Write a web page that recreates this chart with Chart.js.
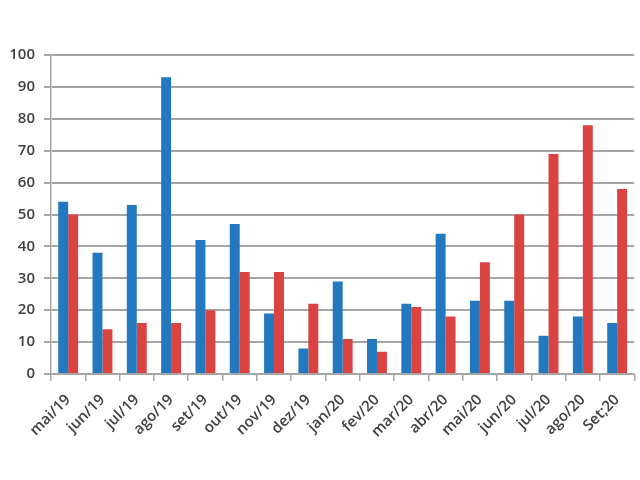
<!DOCTYPE html>
<html>
<head>
<meta charset="utf-8">
<script src="https://cdn.jsdelivr.net/npm/chart.js@4"></script>
<style>
  html, body { margin: 0; padding: 0; background: #fff; }
  #wrap { width: 640px; height: 480px; }
</style>
</head>
<body>
<div id="wrap"><canvas id="myChart" width="640" height="480"></canvas></div>
<script>
// Months (categories)
const months = ['mai/19', 'jun/19', 'jul/19', 'ago/19', 'set/19', 'out/19', 'nov/19', 'dez/19',
  'jan/20', 'fev/20', 'mar/20', 'abr/20', 'mai/20', 'jun/20', 'jul/20', 'ago/20', 'Set;20'];

// Series values
const blueValues = [54, 38, 53, 93, 42, 47, 19, 8, 29, 11, 22, 44, 23, 23, 12, 18, 16];
const redValues = [50, 14, 16, 16, 20, 32, 32, 22, 11, 7, 21, 18, 35, 50, 69, 78, 58];

// Y axis range
const yMin = 0;
const yMax = 100;
const yStep = 10;

const textColor = '#404040';
const gridColor = '#a6a6a6';

const ctx = document.getElementById('myChart').getContext('2d');
const myChart = new Chart(ctx, {
    type: 'bar',
    data: {
        labels: months,
        datasets: [{
            data: blueValues,
            backgroundColor: '#2279bf',
            barPercentage: 1.0,
            categoryPercentage: 0.58
        }, {
            data: redValues,
            backgroundColor: '#db4341',
            barPercentage: 1.0,
            categoryPercentage: 0.58
        }]
    },
    options: {
        responsive: false,
        animation: false,
        layout: {
            padding: { top: 55, right: 4, bottom: 0, left: 0 }
        },
        plugins: {
            legend: { display: false },
            tooltip: { enabled: false }
        },
        scales: {
            x: {
                offset: true,
                grid: {
                    offset: true,
                    drawOnChartArea: false,
                    drawTicks: true,
                    tickLength: 7,
                    color: gridColor,
                    lineWidth: 1.5
                },
                border: { display: false },
                ticks: {
                    color: textColor,
                    font: { family: 'Open Sans', size: 15, weight: '600' },
                    maxRotation: 45,
                    minRotation: 45,
                    autoSkip: false,
                    padding: 10
                },
                afterFit: function (axis) {
                    axis.height = 106; // keep the plot bottom where the reference has it
                }
            },
            y: {
                min: yMin,
                max: yMax,
                grid: {
                    color: gridColor,
                    lineWidth: 2,
                    tickLength: 7,
                    drawTicks: true
                },
                border: { color: gridColor, width: 1.5 },
                ticks: {
                    stepSize: yStep,
                    color: textColor,
                    font: { family: 'Open Sans', size: 15, weight: '600' },
                    padding: 9
                },
                afterFit: function (axis) {
                    axis.width = 51;
                }
            }
        }
    }
});
</script>
</body>
</html>
